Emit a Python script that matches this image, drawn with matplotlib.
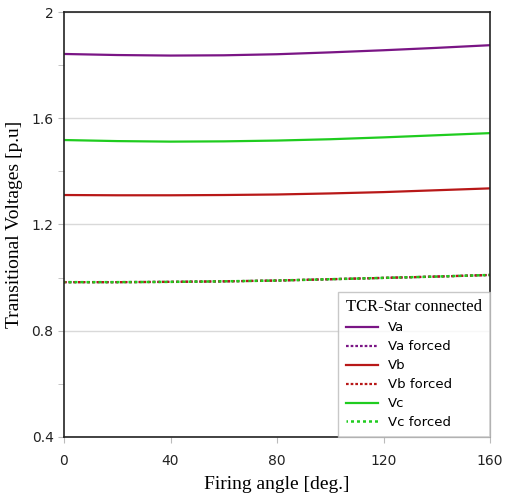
import matplotlib
matplotlib.use("Agg")
import matplotlib.pyplot as plt
from matplotlib.ticker import MultipleLocator

# firing angle (deg) and transitional voltages (p.u)
angle = [0, 20, 40, 60, 80, 100, 120, 140, 160]
va = [1.842, 1.838, 1.836, 1.837, 1.841, 1.848, 1.856, 1.865, 1.875]
vb = [1.311, 1.310, 1.310, 1.311, 1.313, 1.317, 1.322, 1.329, 1.336]
vc = [1.518, 1.514, 1.512, 1.513, 1.516, 1.521, 1.528, 1.536, 1.544]
va_forced = [0.983, 0.983, 0.984, 0.986, 0.989, 0.994, 0.999, 1.004, 1.010]
vb_forced = [0.983, 0.983, 0.984, 0.986, 0.989, 0.994, 0.999, 1.004, 1.010]
vc_forced = [0.983, 0.983, 0.984, 0.986, 0.989, 0.994, 0.999, 1.004, 1.010]

c_a = "#7a1585"
c_b = "#b81818"
c_c = "#1fcc1f"
dots = (0, (1.2, 0.9))

fig = plt.figure(figsize=(5.05, 4.93), dpi=100)
ax = fig.add_axes([64 / 505, 56 / 493, 426 / 505, 425 / 493])

ax.plot(angle, va, color=c_a, lw=1.6, label="Va")
ax.plot(angle, va_forced, color=c_a, lw=1.6, ls=dots, label="Va forced")
ax.plot(angle, vb, color=c_b, lw=1.6, label="Vb")
ax.plot(angle, vb_forced, color=c_b, lw=1.6, ls=dots, label="Vb forced")
ax.plot(angle, vc, color=c_c, lw=1.6, label="Vc")
ax.plot(angle, vc_forced, color=c_c, lw=1.8, ls=(0.6, (1.2, 1.2)), label="Vc forced")

ax.set_xlim(0, 160)
ax.set_ylim(0.4, 2)
ax.xaxis.set_major_locator(MultipleLocator(40))
ax.yaxis.set_major_locator(MultipleLocator(0.4))
ax.yaxis.set_minor_locator(MultipleLocator(0.2))
ax.yaxis.set_major_formatter(plt.FuncFormatter(lambda v, p: f"{v:g}"))
ax.grid(axis="y", which="major", color="#d9d9d9", lw=1)
ax.set_axisbelow(True)
ax.tick_params(which="both", color="#bbbbbb", length=4, labelsize=10, labelcolor="#222222")
ax.tick_params(axis="x", pad=8)
for s in ax.spines.values():
    s.set_color("#222222")
    s.set_linewidth(1.2)

serif = "Liberation Serif"
ax.set_xlabel("Firing angle [deg.]", fontfamily=serif, fontsize=14, labelpad=6)
ax.set_ylabel("Transitional Voltages [p.u]", fontfamily=serif, fontsize=14, labelpad=6)

leg = ax.legend(loc="lower right", fontsize=9.5, frameon=True, fancybox=False,
                borderaxespad=0, handlelength=2.4, labelspacing=0.45,
                borderpad=0.6, edgecolor="#bbbbbb", title="TCR-Star connected")
leg.get_title().set_fontfamily(serif)
leg.get_title().set_fontsize(12)
leg._legend_box.align = "left"

fig.savefig("out.png", dpi=100)
